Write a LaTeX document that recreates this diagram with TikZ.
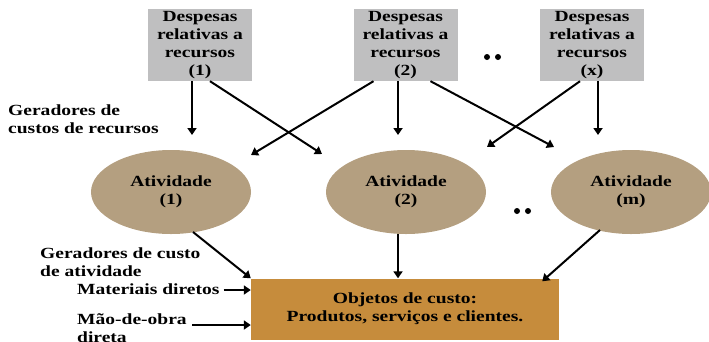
\documentclass[tikz,border=0pt]{standalone}
\usepackage{fontspec}
\setmainfont{Liberation Serif}[FakeStretch=1.26]
\usetikzlibrary{arrows.meta,shapes.geometric}
\definecolor{boxgray}{HTML}{BFBFC0}
\definecolor{acttan}{HTML}{B49F80}
\definecolor{objorange}{HTML}{C68C3C}
\begin{document}
\begin{tikzpicture}[x=1pt,y=-1pt,
  txt/.style={font=\bfseries\fontsize{15.5}{18}\selectfont},
  resbox/.style={txt,fill=boxgray,minimum width=104pt,minimum height=72pt,inner sep=0pt,align=center},
  actell/.style={txt,ellipse,fill=acttan,minimum width=160pt,minimum height=84pt,inner sep=0pt,align=center},
  objbox/.style={txt,fill=objorange,minimum width=308pt,minimum height=61pt,inner sep=0pt,align=center},
  lbl/.style={txt,align=left,inner sep=0pt,anchor=north west},
  arr/.style={line width=2pt,-{Triangle[width=9pt,length=7pt]}}]
\useasboundingbox (0,0) rectangle (709,341);
\clip (0,0) rectangle (709,341);
% resource boxes
\node[resbox] (b1) at (200,45) {Despesas\\relativas a\\recursos\\(1)};
\node[resbox] (b2) at (405.5,45) {Despesas\\relativas a\\recursos\\(2)};
\node[resbox] (bx) at (592,45) {Despesas\\relativas a\\recursos\\(x)};
% activities
\node[actell] (e1) at (171,192) {Atividade\\(1)};
\node[actell] (e2) at (406,192) {Atividade\\(2)};
\node[actell] (em) at (631,192) {Atividade\\(m)};
% cost objects
\node[objbox] (obj) at (405,309) {Objetos de custo:\\Produtos, serviços e clientes.};
% labels
\node[lbl] (g1) at (8,105) {Geradores de\\custos de recursos};
\node[lbl] (g2) at (40,248) {Geradores de custo\\de atividade};
\node[lbl] (mat) at (77,284) {Materiais diretos};
\node[lbl] (mao) at (77,313) {Mão-de-obra\\direta};
% dots
\fill (487,57) circle (3) (498,57) circle (3);
\fill (517,211) circle (3) (528,211) circle (3);
% upper arrow end points
\coordinate (t11) at (192,135);
\coordinate (t12) at (322,154);
\coordinate (t21) at (251,155);
\coordinate (t22) at (398,135);
\coordinate (t23) at (554,147);
\coordinate (tx1) at (487,147);
\coordinate (txm) at (598,135);
\draw[arr] (b1.south -| t11) -- (t11);
\draw[arr] ([xshift=10pt]b1.south) -- (t12);
\draw[arr] ([xshift=-32pt]b2.south) -- (t21);
\draw[arr] (b2.south -| t22) -- (t22);
\draw[arr] ([xshift=25pt]b2.south) -- (t23);
\draw[arr] ([xshift=-12pt]bx.south) -- (tx1);
\draw[arr] (bx.south -| txm) -- (txm);
% lower arrows
\coordinate (s1) at (193,232);
\coordinate (sm) at (600,230);
\draw[arr] (s1) -- (obj.north west);
\draw[arr] (e2.south -| t22) -- (obj.north -| t22);
\draw[arr] (sm) -- ([xshift=-17pt,yshift=-3pt]obj.north east);
\draw[arr] (mat.east |- 0,290) ++(4,0) -- (obj.west |- 0,290);
\draw[arr] (192,325) -- (obj.west |- 0,325);
\end{tikzpicture}
\end{document}
